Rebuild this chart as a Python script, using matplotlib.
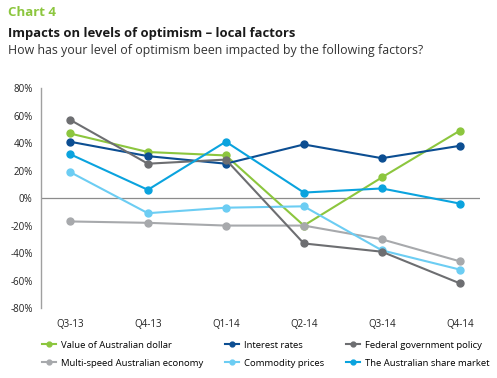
import numpy as np
import matplotlib.pyplot as plt

plt.rcParams['font.family'] = ['Open Sans', 'DejaVu Sans']

quarters = ['Q3-13', 'Q4-13', 'Q1-14', 'Q2-14', 'Q3-14', 'Q4-14']

aud_dollar = [47, 33.5, 31, -20, 15, 49]
interest_rates = [41, 30.5, 25, 39, 29, 38]
federal_policy = [57, 25, 28, -33, -39, -62]
multi_speed = [-17, -18, -20, -20, -30, -46]
commodity = [19, -11, -7, -6, -38, -52]
share_market = [32, 6, 41, 4, 7, -4]

series = [
    ('Value of Australian dollar', aud_dollar, '#8cc63e'),
    ('Multi-speed Australian economy', multi_speed, '#a7a9ac'),
    ('Interest rates', interest_rates, '#0c4e92'),
    ('Commodity prices', commodity, '#6ccdf3'),
    ('Federal government policy', federal_policy, '#6d6e71'),
    ('The Australian share market', share_market, '#0aa3de'),
]

fig = plt.figure(figsize=(4.97, 3.78), dpi=100)
fig.text(0.016, 0.968, 'Chart 4', color='#8cc63e', fontsize=9.5, fontweight='bold', va='center')
fig.text(0.016, 0.912, 'Impacts on levels of optimism \u2013 local factors', color='#1a1a1a',
         fontsize=9.4, fontweight='bold', va='center')
fig.text(0.016, 0.866, 'How has your level of optimism been impacted by the following factors?',
         color='#333333', fontsize=8.9, va='center')

ax = fig.add_axes([0.0825, 0.185, 0.8835, 0.582])
x = np.arange(len(quarters))
for name, vals, col in series:
    ax.plot(x, vals, color=col, lw=1.5, marker='o', ms=5, label=name)

ax.axhline(0, color='#8c8c8c', lw=0.9, zorder=0)
ax.set_xlim(-0.37, 5.26)
ax.set_ylim(-80, 80)
ax.set_yticks(np.arange(-80, 81, 20))
ax.set_yticklabels([f'{v}%' for v in range(-80, 81, 20)])
ax.set_xticks(x)
ax.set_xticklabels(quarters)
ax.tick_params(axis='both', length=0, labelsize=7, colors='#222222')
ax.tick_params(axis='x', pad=8)
ax.tick_params(axis='y', pad=6)
for s in ['top', 'right', 'bottom']:
    ax.spines[s].set_visible(False)
ax.spines['left'].set_color('#a0a0a0')
ax.spines['left'].set_linewidth(1.0)

fig.legend(loc='center left', bbox_to_anchor=(0.085, 0.063), ncol=3, frameon=False,
           fontsize=6.8, handlelength=1.5, columnspacing=2.3, labelspacing=0.95,
           handletextpad=0.5, markerscale=0.7, borderaxespad=0, borderpad=0)

fig.savefig('out.png', dpi=100)
